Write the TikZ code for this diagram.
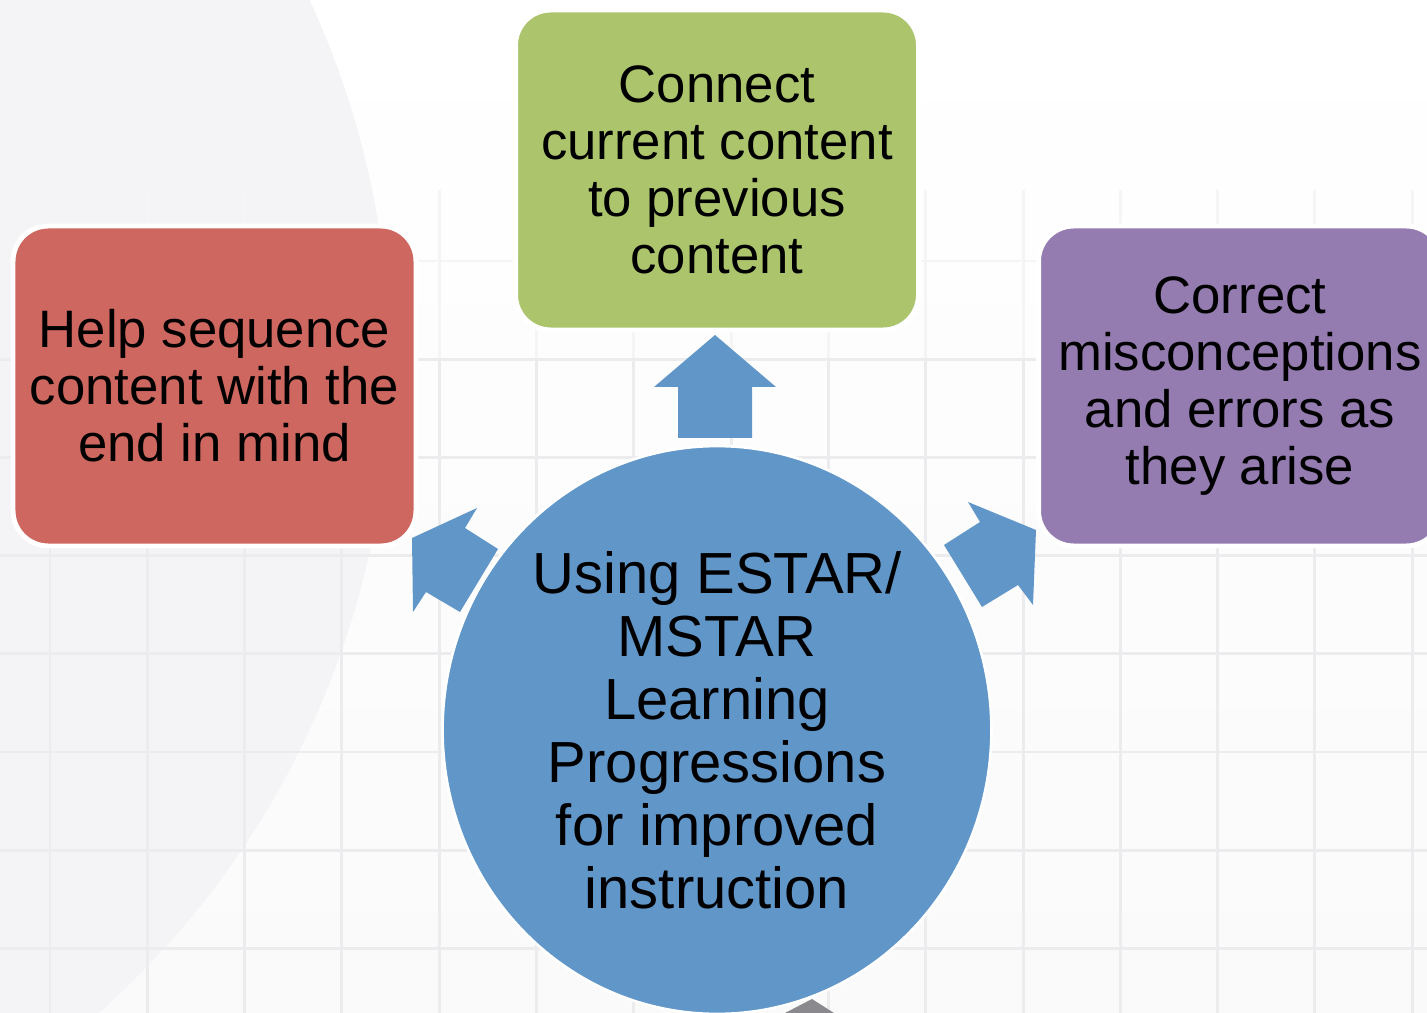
\documentclass[tikz,border=0pt]{standalone}
\usepackage{fontspec}
\setmainfont{Liberation Sans}
\usetikzlibrary{shapes.geometric}

\definecolor{hubblue}{RGB}{97,150,201}
\definecolor{boxred}{RGB}{205,103,95}
\definecolor{boxgreen}{RGB}{172,197,109}
\definecolor{boxpurple}{RGB}{148,123,176}
\definecolor{bgpale}{RGB}{250,250,250}
\definecolor{bggray}{RGB}{244,244,246}
\definecolor{gridgray}{RGB}{236,236,238}
\definecolor{gridpale}{RGB}{245,245,246}
\definecolor{wedgegray}{RGB}{138,138,142}

\tikzset{
  box/.style={rectangle, rounded corners=20pt, draw=white, line width=2.8pt,
    minimum width=8.06cm, minimum height=6.4cm, inner sep=0pt, align=center,
    font=\fontsize{30}{32.4}\selectfont},
  hub/.style={ellipse, fill=hubblue, draw=white, line width=1.5pt,
    minimum width=10.98cm, minimum height=11.36cm, inner sep=0pt, align=center,
    font=\fontsize{33}{35.9}\selectfont},
  blockarrow/.style={fill=hubblue}
}

\begin{document}
\begin{tikzpicture}[x=0.02cm,y=-0.02cm]
  \clip (0,0) rectangle (1427,1013);
  % background
  \shade[top color=white,bottom color=bgpale] (0,0) rectangle (1427,1013);
  \fill[bggray] (-477,365) circle[radius=17.34cm];
  \foreach \gx in {0,...,14} {
    \draw[gridpale,line width=1.7pt] ({50+97.3*\gx},190) -- ({50+97.3*\gx},359);
    \draw[gridgray,line width=1.7pt] ({50+97.3*\gx},359) -- ({50+97.3*\gx},1013);
  }
  \draw[gridpale,line width=1.7pt] (0,261) -- (1427,261);
  \foreach \gy in {1,...,7}
    \draw[gridgray,line width=1.7pt] (0,{261+98.2*\gy}) -- (1427,{261+98.2*\gy});
  \fill[wedgegray] (785,1013) -- (812,999) -- (834,1013) -- cycle;

  % outer boxes
  \node[box,fill=boxred] (help) at (214.5,386) {Help sequence\\content with the\\end in mind};
  \node[box,fill=boxgreen] (connect) at (717,170) {Connect\\current content\\to previous\\content};
  \node[box,fill=boxpurple] (correct) at (1240,386) {Correct\\misconceptions\\and errors as\\they arise};

  % block arrows
  \fill[blockarrow] (715,335) -- (776,387) -- (752,387) -- (752,438)
    -- (678,438) -- (678,387) -- (654,387) -- cycle;
  \fill[blockarrow] (477,508) -- (412,538) -- (413,612) -- (426,592)
    -- (460,612) -- (498,549) -- (465,528) -- cycle;
  \fill[blockarrow] (968,502) -- (1036,530) -- (1033,605) -- (1018,585)
    -- (982,607) -- (944,545) -- (980,522) -- cycle;

  % centre
  \node[hub] (hub) at (717,730) {Using ESTAR/\\MSTAR\\Learning\\Progressions\\for improved\\instruction};
\end{tikzpicture}
\end{document}
